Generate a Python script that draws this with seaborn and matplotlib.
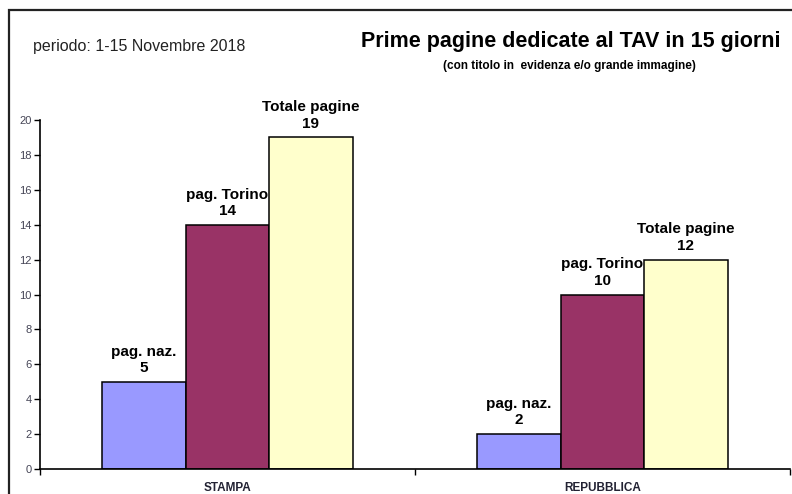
import matplotlib
matplotlib.use("Agg")
import matplotlib.pyplot as plt
from matplotlib.patches import Rectangle
import seaborn as sns
import pandas as pd

# data
giornali = ["STAMPA", "REPUBBLICA"]
tipi = ["pag. naz.", "pag. Torino", "Totale pagine"]
pag_naz = [5, 2]
pag_torino = [14, 10]
totale = [19, 12]
yticks = list(range(0, 21, 2))

colori = ["#9999FF", "#993366", "#FFFFCC"]

rows = []
for i, g in enumerate(giornali):
    for t, vals in zip(tipi, [pag_naz, pag_torino, totale]):
        rows.append({"giornale": g, "tipo": t, "pagine": vals[i]})
df = pd.DataFrame(rows)

sns.set_style("white")
plt.rcParams["font.family"] = ["Liberation Sans", "DejaVu Sans"]

fig = plt.figure(figsize=(7.92, 4.94), dpi=100)
ax = fig.add_axes([40 / 792, 1 - 469 / 494, 750 / 792, 349 / 494])

sns.barplot(data=df, x="giornale", y="pagine", hue="tipo", order=giornali,
            hue_order=tipi, palette=colori, edgecolor="black", linewidth=1.1,
            width=0.667, gap=0, saturation=1, legend=False, ax=ax)

# two-line labels above each bar
for cont, t in zip(ax.containers, tipi):
    labs = [f"{t}\n{int(b.get_height())}" for b in cont]
    ax.bar_label(cont, labels=labs, padding=5, fontsize=11, fontweight="bold",
                 linespacing=1.2, color="black")

ax.set_xlim(-0.5, 1.5)
ax.set_ylim(0, 20)
ax.set_yticks(yticks)
ax.set_xticks([-0.5, 0.5, 1.5], minor=True)
ax.tick_params(axis="x", which="major", bottom=False, length=0, pad=9)
ax.tick_params(axis="x", which="minor", bottom=True, length=4, width=1,
               direction="out", color="black")
ax.tick_params(axis="y", left=True, length=4, width=1, direction="out", pad=2,
               labelsize=8, labelcolor="#444455", color="black")
for lab in ax.get_xticklabels():
    lab.set_fontsize(8.5)
    lab.set_fontweight("bold")
    lab.set_color("#222233")
ax.set_xlabel("")
ax.set_ylabel("")
sns.despine(ax=ax)
for s in ["left", "bottom"]:
    ax.spines[s].set_color("black")
    ax.spines[s].set_linewidth(1.2)

# outer frame
fig.add_artist(Rectangle((9 / 792, -0.1), 1.2, 1.1 - 10 / 494,
                         transform=fig.transFigure, fill=False,
                         edgecolor="#222222", linewidth=1.6))

fig.text(33 / 792, 1 - 47 / 494, "periodo: 1-15 Novembre 2018", fontsize=11.5,
         va="center", ha="left", color="#222222")
fig.text(571 / 792, 1 - 42 / 494, "Prime pagine dedicate al TAV in 15 giorni",
         fontsize=15.5, fontweight="bold", ha="center", va="center",
         color="black")
fig.text(569 / 792, 1 - 66 / 494, "(con titolo in  evidenza e/o grande immagine)",
         fontsize=8.5, fontweight="bold", ha="center", va="center",
         color="black")

fig.savefig("out.png", dpi=100)
